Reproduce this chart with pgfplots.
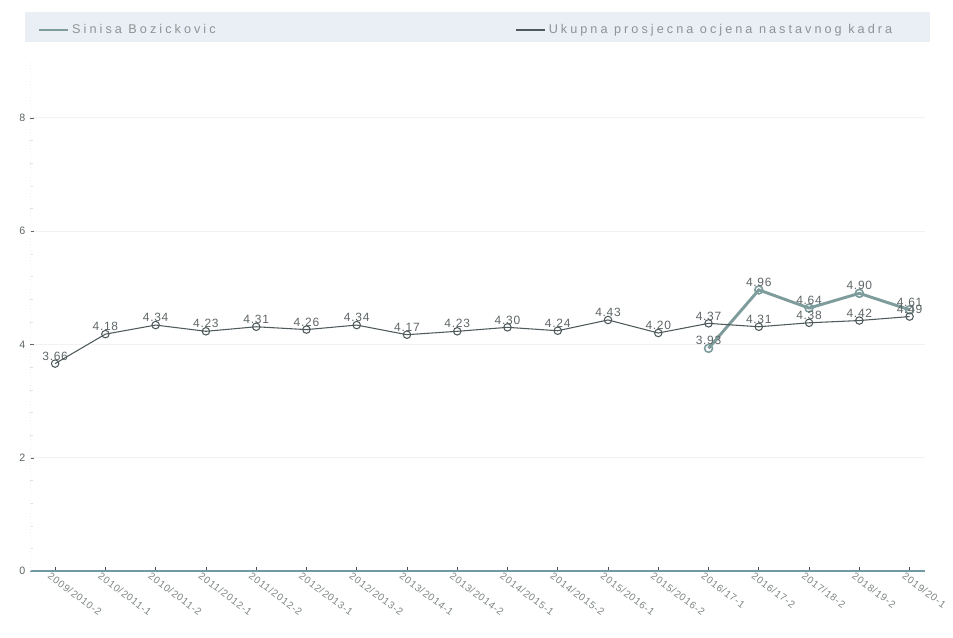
\documentclass[border=0pt]{standalone}
\usepackage{fontspec}
\setmainfont{Liberation Sans}
\usepackage{pgfplots}
\pgfplotsset{compat=1.18}

\definecolor{ukupna}{HTML}{4F5A5C}
\definecolor{sinisa}{HTML}{7E9C9B}
\definecolor{band}{HTML}{E9EFF4}
\definecolor{txt}{HTML}{5E6566}
\definecolor{xaxis}{HTML}{6F9AA6}

\begin{document}
\begin{tikzpicture}
\useasboundingbox (-22.5pt,-50.25pt) rectangle (692.25pt,428.25pt);
\fill[band] (-3.75pt,396.75pt) rectangle (675pt,419.25pt);
\begin{axis}[
    at={(0pt,0pt)}, anchor=south west,
    scale only axis,
    width=671pt, height=382.5pt,
    xmin=-0.5, xmax=17.3,
    ymin=0, ymax=9,
    ytick={0,2,4,6,8},
    minor y tick num=4,
    xtick={0,...,17},
    xticklabels={2009/2010-2,2010/2011-1,2010/2011-2,2011/2012-1,2011/2012-2,
      2012/2013-1,2012/2013-2,2013/2014-1,2013/2014-2,2014/2015-1,2014/2015-2,
      2015/2016-1,2015/2016-2,2016/17-1,2016/17-2,2017/18-2,2018/19-2,2019/20-1},
    x tick label style={rotate=-37, anchor=north west, font=\fontsize{7.5}{8}\selectfont\addfontfeature{LetterSpace=8}, text=txt!80, inner sep=1pt, xshift=-3pt, yshift=-1pt},
    y tick label style={font=\fontsize{8}{9}\selectfont, text=txt},
    /pgf/number format/assume math mode=true,
    axis x line*=bottom,
    axis y line*=left,
    x axis line style={xaxis, line width=0.9pt, -},
    y axis line style={draw=black!6, dotted},
    major tick length=3pt, minor tick length=2pt,
    xtick style={black!70, line width=0.6pt},
    ytick style={black!60},
    minor y tick style={black!12},
    ymajorgrids, major grid style={black!5},
    every node near coord/.append style={font=\fontsize{9}{10}\selectfont\addfontfeature{LetterSpace=6}, text=txt, inner sep=2pt},
    nodes near coords={\pgfmathprintnumber[fixed, fixed zerofill, precision=2]{\pgfplotspointmeta}},
    legend style={at={(axis description cs:0.004,1.083)}, anchor=north west,
      draw=none, fill=none, font=\fontsize{9.5}{10}\selectfont\addfontfeature{LetterSpace=24}\color{txt!70},
      legend columns=2, /tikz/every even column/.append style={column sep=222pt}},
    legend image code/.code={\draw[#1, line width=1.8pt] (0pt,0pt) -- (22pt,0pt);},
  ]
  \addplot[sinisa, line width=2.2pt, mark=o, mark size=3pt, mark options={line width=1.2pt, fill=white}]
    coordinates {(13,3.93) (14,4.96) (15,4.64) (16,4.90) (17,4.61)};
  \addlegendentry{Sinisa Bozickovic}
  \addplot[ukupna, line width=0.8pt, mark=o, mark size=2.8pt, mark options={fill=white, line width=0.8pt}]
    coordinates {(0,3.66) (1,4.18) (2,4.34) (3,4.23) (4,4.31) (5,4.26) (6,4.34)
      (7,4.17) (8,4.23) (9,4.30) (10,4.24) (11,4.43) (12,4.20) (13,4.37)
      (14,4.31) (15,4.38) (16,4.42) (17,4.49)};
  \addlegendentry{Ukupna prosjecna ocjena nastavnog kadra}
\end{axis}
\end{tikzpicture}
\end{document}
